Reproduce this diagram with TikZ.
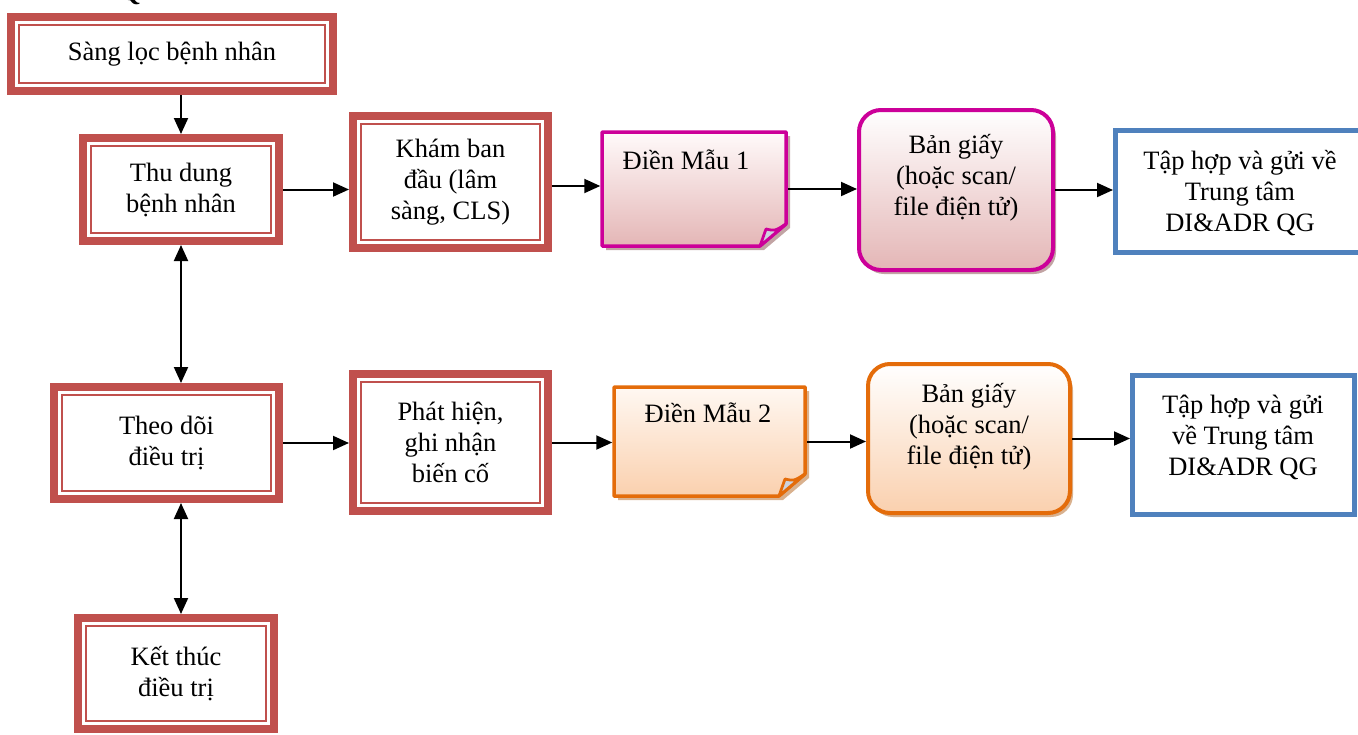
\documentclass[tikz,border=0pt]{standalone}
\usepackage{fontspec}
\setmainfont{Liberation Serif}
\usetikzlibrary{arrows.meta,shadows,calc}
\definecolor{boxred}{HTML}{C0504D}
\definecolor{boxmag}{HTML}{CC0099}
\definecolor{boxora}{HTML}{E46C0A}
\definecolor{boxblue}{HTML}{4F81BD}
\definecolor{pinktop}{HTML}{FFFAFA}
\definecolor{pinkbot}{HTML}{E4B6B6}
\definecolor{oratop}{HTML}{FFF8F2}
\definecolor{orabot}{HTML}{FAD0AE}
\definecolor{pinkshadow}{HTML}{C2A4A4}
\definecolor{orashadow}{HTML}{D9B18E}
\definecolor{foldgray}{HTML}{CDD3DE}
\newcommand\dogear[9]{% L T R B border top bottom shadow fold
  \fill[#8] (#1+4,#2+4) -- (#3+4,#2+4) -- (#3+4,#4+4-22) -- (#3+4-26,#4+4) -- (#1+4,#4+4) -- cycle;
  \shade[top color=#6,bottom color=#7] (#1,#2) -- (#3,#2) -- (#3,#4-22) -- (#3-26,#4) -- (#1,#4) -- cycle;
  \draw[#5, line width=3.5pt, line join=round] (#1,#2) -- (#3,#2) -- (#3,#4-22) -- (#3-26,#4) -- (#1,#4) -- cycle;
  \draw[#5, line width=2.8pt, fill=#9, line join=round] (#3-26,#4) .. controls (#3-23,#4-9) .. (#3-20,#4-17) .. controls (#3-11,#4-15) .. (#3,#4-22) -- cycle;
}
\tikzset{
  txt/.style={font=\fontsize{26.5}{31}\selectfont, align=center, inner sep=0pt},
  redbox/.style={draw=boxred, line width=8pt, fill=white, txt,
    path picture={\draw[boxred,line width=2pt]
      ([shift={(7.8pt,7.8pt)}]path picture bounding box.south west) rectangle
      ([shift={(-7.8pt,-7.8pt)}]path picture bounding box.north east);}},
  rbox/.style={rounded corners=22pt, line width=4pt, inner sep=0pt,
    drop shadow={shadow xshift=3pt, shadow yshift=-4pt, fill=#1, opacity=1}},
  bluebox/.style={draw=boxblue, line width=5pt, fill=white, inner sep=0pt},
  anchorbox/.style={inner sep=0pt, outer sep=1.75pt},
  arr/.style={line width=2pt, -{Triangle[length=16pt,width=14pt]}},
  darr/.style={line width=2pt, {Triangle[length=16pt,width=14pt]}-{Triangle[length=16pt,width=14pt]}},
}
\begin{document}
\begin{tikzpicture}[x=1pt,y=-1pt]
\useasboundingbox (0,0) rectangle (1358,734);
\node[font=\bfseries\fontsize{26.5}{31}\selectfont, anchor=base west, inner sep=0pt] (qhead) at (120,0) {Q};

% red double-border boxes
\node[redbox, minimum width=322pt, minimum height=74pt] (sang) at (172,54) {Sàng lọc bệnh nhân};
\node[redbox, minimum width=196pt, minimum height=103pt] (thu) at (181,189.5) {Thu dung\\bệnh nhân};
\node[redbox, minimum width=195pt, minimum height=132pt] (kham) at (450.5,182) {Khám ban\\đầu (lâm\\sàng, CLS)};
\node[redbox, minimum width=225pt, minimum height=112pt] (theo) at (166.5,443) {Theo dõi\\điều trị};
\node[redbox, minimum width=195pt, minimum height=137pt] (phat) at (450.5,442.5) {Phát hiện,\\ghi nhận\\biến cố};
\node[redbox, minimum width=196pt, minimum height=111pt] (ket) at (176,673.5) {Kết thúc\\điều trị};

% folded-corner forms
\dogear{602}{132}{786}{246}{boxmag}{pinktop}{pinkbot}{pinkshadow}{foldgray}
\node[anchorbox, minimum width=184pt, minimum height=114pt] (m1) at (694,189) {};
\node[txt] (m1t) at (686,160) {Điền Mẫu 1};
\dogear{614}{387}{805}{496}{boxora}{oratop}{orabot}{orashadow}{foldgray}
\node[anchorbox, minimum width=191pt, minimum height=109pt] (m2) at (709.5,441.5) {};
\node[txt] (m2t) at (708,413) {Điền Mẫu 2};

% rounded paper boxes
\node[rbox=pinkshadow, draw=boxmag, top color=white, bottom color=pinkbot, minimum width=194pt, minimum height=160pt] (b1) at (956,190) {};
\node[txt] (b1t) at (956,178) {Bản giấy\\(hoặc scan/\\file điện tử)};
\node[rbox=orashadow, draw=boxora, top color=white, bottom color=orabot, minimum width=202pt, minimum height=149pt] (b2) at (969,438.5) {};
\node[txt] (b2t) at (969,427) {Bản giấy\\(hoặc scan/\\file điện tử)};

% blue boxes
\node[bluebox, minimum width=254.5pt, minimum height=122pt] (q1) at (1242.75,191.5) {};
\node[txt] (q1t) at (1240,193) {Tập hợp và gửi về\\Trung tâm\\DI\&ADR QG};
\node[bluebox, minimum width=222pt, minimum height=139pt] (q2) at (1243.5,445) {};
\node[txt] (q2t) at (1243,437) {Tập hợp và gửi\\về Trung tâm\\DI\&ADR QG};

% connectors
\draw[arr] (sang.south -| thu.north) -- (thu.north);
\draw[arr] (thu.east) -- (thu.east -| kham.west);
\draw[arr] ([yshift=-4pt]kham.east) -- ([yshift=-4pt]kham.east -| m1.west);
\draw[arr] (m1.east) -- (m1.east -| b1.west);
\draw[arr] (b1.east) -- (b1.east -| q1.west);
\draw[darr] (thu.south) -- (thu.south |- theo.north);
\draw[darr] (theo.south -| thu.south) -- (ket.north -| thu.south);
\draw[arr] (theo.east) -- (theo.east -| phat.west);
\draw[arr] (phat.east) -- (phat.east -| m2.west);
\draw[arr] (m2.east) -- (m2.east -| b2.west);
\draw[arr] (b2.east) -- (b2.east -| q2.west);
\end{tikzpicture}
\end{document}
